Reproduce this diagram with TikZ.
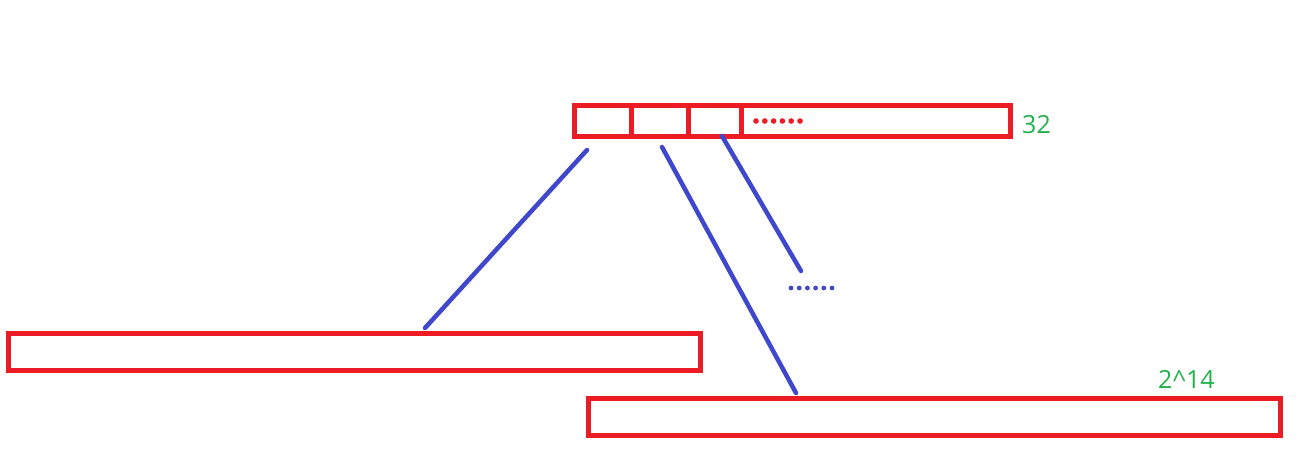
\documentclass[tikz,border=0pt]{standalone}
\usepackage{fontspec}
\setmainfont{Open Sans}
\definecolor{paintred}{HTML}{ED1C24}
\definecolor{paintblue}{HTML}{3F48CC}
\definecolor{paintgreen}{HTML}{22B14C}
\begin{document}
\begin{tikzpicture}[x=1pt, y=-1pt,
  box/.style={draw=paintred, line width=5pt, rectangle, inner sep=0pt, minimum height=31pt},
  page/.style={draw=paintred, line width=5pt, rectangle, inner sep=0pt, minimum width=692pt, minimum height=37pt},
  link/.style={draw=paintblue, line width=4.5pt, line cap=round},
  size/.style={text=paintgreen, font=\fontsize{25}{30}\selectfont, inner sep=0pt}]
 \useasboundingbox (0,0) rectangle (1303,455);
 \node[box, minimum width=57pt] (c1) at (602.5,120.5) {};
 \node[box, minimum width=57pt] (c2) at (659.5,120.5) {};
 \node[box, minimum width=53pt] (c3) at (714.5,120.5) {};
 \node[box, minimum width=269pt] (rest) at (875.5,120.5) {};
 \node[size, anchor=west] (n32) at (1022,125) {32};
 \foreach \i in {0,...,5}
  \fill[paintred] (756+\i*8.8,121) circle (2.8pt);
 \node[page] (low) at (354,351.5) {};
 \node[page] (high) at (934,416.5) {};
 \node[size, anchor=west] (n214) at (1158,379) {2\textasciicircum14};
 \coordinate (a1) at (587,150);
 \coordinate (a2) at (425,328);
 \coordinate (b1) at (662,147);
 \coordinate (b2) at (796,393);
 \coordinate (d1) at (722,136);
 \coordinate (d2) at (801,271);
 \draw[link] (a1) -- (a2);
 \draw[link] (b1) -- (b2);
 \draw[link] (d1) -- (d2);
 \foreach \i in {0,...,5}
  \fill[paintblue] (791+\i*8.2,288) circle (2.4pt);
\end{tikzpicture}
\end{document}
